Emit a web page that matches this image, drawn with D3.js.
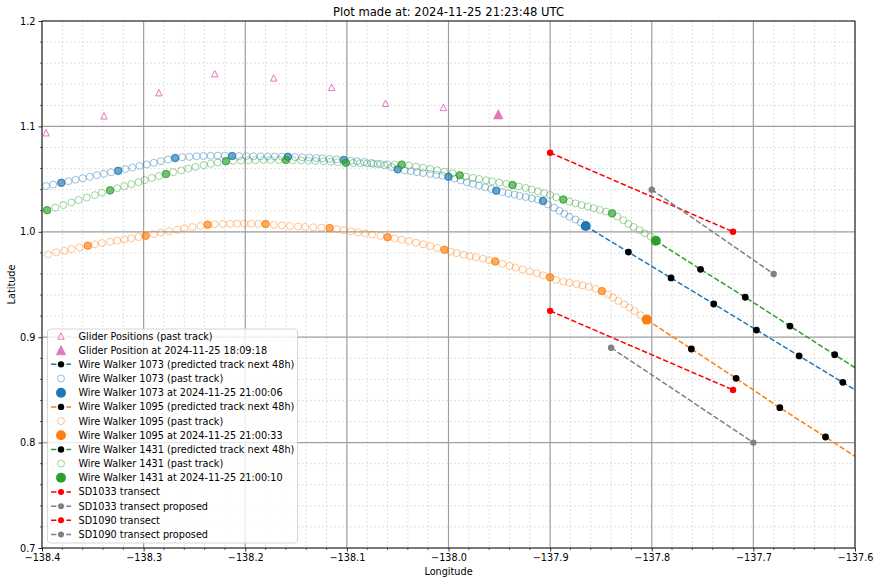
<!DOCTYPE html>
<html><head><meta charset="utf-8">
<script src="https://cdn.jsdelivr.net/npm/d3@7"></script>
<style>body{margin:0;background:#fff;} text{font-family:"DejaVu Sans",sans-serif;fill:#000;}</style>
</head><body><svg id="chart" width="880" height="585"></svg>
<script>
// ---------------- DATA ----------------
const titleText = "Plot made at: 2024-11-25 21:23:48 UTC";
const xTicks = [-138.4,-138.3,-138.2,-138.1,-138.0,-137.9,-137.8,-137.7,-137.6];
const yTicks = [0.7,0.8,0.9,1.0,1.1,1.2];

const gliderLon = [-138.396,-138.339,-138.285,-138.230,-138.172,-138.115,-138.062,-138.005];
const gliderLat = [1.094,1.110,1.132,1.150,1.146,1.137,1.122,1.118];
const gliderNow = [-137.951,1.1115];

const ww1073Lon = [-138.396,-138.389,-138.381,-138.374,-138.367,-138.360,-138.353,-138.346,-138.339,-138.332,
-138.325,-138.318,-138.311,-138.304,-138.297,-138.290,-138.283,-138.276,-138.269,-138.262,
-138.255,-138.248,-138.241,-138.234,-138.227,-138.220,-138.213,-138.206,-138.199,-138.192,
-138.185,-138.178,-138.171,-138.164,-138.158,-138.151,-138.144,-138.137,-138.130,-138.124,
-138.117,-138.110,-138.103,-138.096,-138.090,-138.083,-138.076,-138.070,-138.063,-138.056,
-138.050,-138.043,-138.037,-138.031,-138.025,-138.018,-138.012,-138.006,-138.000,-137.994,
-137.988,-137.982,-137.976,-137.970,-137.964,-137.958,-137.953,-137.947,-137.941,-137.935,
-137.930,-137.924,-137.918,-137.912,-137.907,-137.902,-137.896,-137.891,-137.886,-137.881,
-137.875,-137.870,-137.865];
const ww1073Lat = [1.0434,1.0448,1.0465,1.0480,1.0494,1.0508,1.0522,1.0537,1.0551,1.0565,
1.0579,1.0595,1.0610,1.0625,1.0640,1.0655,1.0670,1.0686,1.0700,1.0707,
1.0711,1.0716,1.0719,1.0722,1.0723,1.0722,1.0719,1.0718,1.0717,1.0716,
1.0716,1.0715,1.0714,1.0713,1.0712,1.0709,1.0706,1.0704,1.0700,1.0696,
1.0692,1.0687,1.0681,1.0675,1.0669,1.0662,1.0653,1.0644,1.0632,1.0614,
1.0593,1.0583,1.0575,1.0566,1.0558,1.0549,1.0540,1.0532,1.0522,1.0505,
1.0488,1.0471,1.0454,1.0438,1.0422,1.0406,1.0390,1.0377,1.0365,1.0353,
1.0341,1.0330,1.0317,1.0305,1.0292,1.0259,1.0228,1.0199,1.0170,1.0143,
1.0116,1.0088,1.0055];
const ww1073Marked = [2,10,18,26,34,42,50,58,66,74];

const ww1095Lon = [-138.394,-138.386,-138.378,-138.371,-138.363,-138.355,-138.348,-138.341,-138.333,-138.326,
-138.319,-138.312,-138.305,-138.298,-138.290,-138.283,-138.275,-138.267,-138.260,-138.252,
-138.244,-138.237,-138.230,-138.222,-138.215,-138.208,-138.201,-138.194,-138.187,-138.180,
-138.172,-138.164,-138.156,-138.148,-138.141,-138.133,-138.125,-138.117,-138.110,-138.103,
-138.096,-138.089,-138.082,-138.075,-138.067,-138.060,-138.053,-138.046,-138.039,-138.032,
-138.025,-138.018,-138.011,-138.004,-137.998,-137.992,-137.985,-137.979,-137.973,-137.966,
-137.960,-137.954,-137.947,-137.940,-137.934,-137.927,-137.920,-137.913,-137.907,-137.900,
-137.894,-137.887,-137.881,-137.874,-137.868,-137.862,-137.855,-137.849,-137.843,-137.838,
-137.833,-137.827,-137.822,-137.817,-137.811,-137.805];
const ww1095Lat = [0.9786,0.9805,0.9820,0.9837,0.9852,0.9868,0.9881,0.9893,0.9905,0.9916,
0.9927,0.9939,0.9950,0.9962,0.9978,0.9992,1.0006,1.0019,1.0033,1.0045,
1.0056,1.0067,1.0072,1.0074,1.0076,1.0077,1.0077,1.0076,1.0075,1.0074,
1.0066,1.0060,1.0055,1.0050,1.0046,1.0043,1.0039,1.0036,1.0025,1.0015,
1.0005,0.9995,0.9984,0.9973,0.9961,0.9949,0.9937,0.9925,0.9912,0.9897,
0.9882,0.9865,0.9847,0.9829,0.9811,0.9797,0.9782,0.9770,0.9758,0.9744,
0.9731,0.9718,0.9696,0.9677,0.9660,0.9642,0.9624,0.9606,0.9587,0.9568,
0.9544,0.9528,0.9516,0.9504,0.9492,0.9478,0.9459,0.9438,0.9406,0.9375,
0.9344,0.9312,0.9282,0.9248,0.9209,0.9167];
const ww1095Marked = [5,13,21,29,37,45,53,61,69,77];

const ww1431Lon = [-138.395,-138.387,-138.379,-138.371,-138.364,-138.356,-138.348,-138.341,-138.333,-138.326,
-138.319,-138.312,-138.305,-138.299,-138.292,-138.285,-138.278,-138.271,-138.263,-138.256,
-138.249,-138.241,-138.234,-138.227,-138.219,-138.212,-138.204,-138.197,-138.190,-138.182,
-138.175,-138.167,-138.160,-138.153,-138.145,-138.138,-138.131,-138.123,-138.116,-138.109,
-138.101,-138.094,-138.087,-138.080,-138.074,-138.067,-138.060,-138.053,-138.046,-138.039,
-138.032,-138.025,-138.018,-138.011,-138.004,-137.996,-137.989,-137.983,-137.976,-137.970,
-137.963,-137.957,-137.950,-137.943,-137.937,-137.931,-137.924,-137.918,-137.912,-137.906,
-137.900,-137.894,-137.887,-137.881,-137.875,-137.869,-137.863,-137.857,-137.851,-137.845,
-137.839,-137.834,-137.828,-137.823,-137.818,-137.812,-137.807,-137.801,-137.796];
const ww1431Lat = [1.0205,1.0229,1.0254,1.0278,1.0301,1.0325,1.0348,1.0371,1.0393,1.0413,
1.0433,1.0452,1.0471,1.0491,1.0510,1.0529,1.0548,1.0566,1.0583,1.0600,
1.0616,1.0632,1.0645,1.0658,1.0670,1.0673,1.0676,1.0678,1.0680,1.0681,
1.0682,1.0682,1.0681,1.0679,1.0677,1.0675,1.0672,1.0669,1.0665,1.0660,
1.0655,1.0653,1.0650,1.0648,1.0645,1.0643,1.0641,1.0638,1.0637,1.0628,
1.0618,1.0608,1.0596,1.0584,1.0571,1.0555,1.0536,1.0523,1.0512,1.0501,
1.0489,1.0478,1.0467,1.0455,1.0444,1.0430,1.0416,1.0400,1.0384,1.0367,
1.0349,1.0328,1.0306,1.0287,1.0270,1.0254,1.0239,1.0224,1.0208,1.0192,
1.0175,1.0145,1.0109,1.0075,1.0046,1.0017,0.9986,0.9955,0.9915];
const ww1431Marked = [0,8,16,24,32,40,48,56,64,72,80];

const pred1073Lon = [-137.865,-137.823,-137.781,-137.739,-137.697,-137.655,-137.612,-137.570];
const pred1073Lat = [1.0055,0.9808,0.9562,0.9315,0.9068,0.8822,0.8572,0.8324];
const pred1095Lon = [-137.805,-137.761,-137.717,-137.674,-137.629,-137.585];
const pred1095Lat = [0.9167,0.8888,0.8610,0.8331,0.8053,0.7775];
const pred1431Lon = [-137.796,-137.752,-137.708,-137.664,-137.620,-137.576];
const pred1431Lat = [0.9915,0.9644,0.9379,0.9106,0.8834,0.8563];

const sd1033Lon = [-137.90,-137.72], sd1033Lat = [1.075,1.000];
const sd1033PropLon = [-137.80,-137.68], sd1033PropLat = [1.040,0.960];
const sd1090Lon = [-137.90,-137.72], sd1090Lat = [0.925,0.850];
const sd1090PropLon = [-137.84,-137.70], sd1090PropLat = [0.890,0.800];

const legendLabels = [
 "Glider Positions (past track)",
 "Glider Position at 2024-11-25 18:09:18",
 "Wire Walker 1073 (predicted track next 48h)",
 "Wire Walker 1073 (past track)",
 "Wire Walker 1073 at 2024-11-25 21:00:06",
 "Wire Walker 1095 (predicted track next 48h)",
 "Wire Walker 1095 (past track)",
 "Wire Walker 1095 at 2024-11-25 21:00:33",
 "Wire Walker 1431 (predicted track next 48h)",
 "Wire Walker 1431 (past track)",
 "Wire Walker 1431 at 2024-11-25 21:00:10",
 "SD1033 transect",
 "SD1033 transect proposed",
 "SD1090 transect",
 "SD1090 transect proposed"
];

// ---------------- STYLE / LAYOUT ----------------
const C = {blue:"#1f77b4", orange:"#ff7f0e", green:"#2ca02c", pink:"#e377c2", red:"#ff0000", gray:"#808080"};
const L = 42, R = 855, T = 21, B = 548;
const svg = d3.select("#chart");
const x = d3.scaleLinear().domain([xTicks[0], xTicks[xTicks.length-1]]).range([L,R]);
const y = d3.scaleLinear().domain([yTicks[0], yTicks[yTicks.length-1]]).range([B,T]);
const zip = (a,b) => a.map((v,i)=>[v,b[i]]);
const fmt = d3.format(".1f");

svg.append("rect").attr("width",880).attr("height",585).attr("fill","#fff");
svg.append("defs").append("clipPath").attr("id","clip")
  .append("rect").attr("x",L).attr("y",T).attr("width",R-L).attr("height",B-T);

// minor grid
const xMinor = x.ticks(40), yMinor = y.ticks(25);
const grid = svg.append("g");
grid.selectAll(".xm").data(xMinor).join("line")
  .attr("x1",d=>x(d)).attr("x2",d=>x(d)).attr("y1",T).attr("y2",B)
  .attr("stroke","#d8d8d8").attr("stroke-width",0.8).attr("stroke-dasharray","2,2");
grid.selectAll(".ym").data(yMinor).join("line")
  .attr("y1",d=>y(d)).attr("y2",d=>y(d)).attr("x1",L).attr("x2",R)
  .attr("stroke","#d8d8d8").attr("stroke-width",0.8).attr("stroke-dasharray","2,2");
// major grid
grid.selectAll(".xM").data(xTicks).join("line")
  .attr("x1",d=>x(d)).attr("x2",d=>x(d)).attr("y1",T).attr("y2",B)
  .attr("stroke","#a0a0a0").attr("stroke-width",1.2);
grid.selectAll(".yM").data(yTicks).join("line")
  .attr("y1",d=>y(d)).attr("y2",d=>y(d)).attr("x1",L).attr("x2",R)
  .attr("stroke","#a0a0a0").attr("stroke-width",1.2);

const plot = svg.append("g").attr("clip-path","url(#clip)");
const tri = h => `M0,${-h}L${h},${h}L${-h},${h}Z`;

// glider
plot.selectAll(".gl").data(zip(gliderLon,gliderLat)).join("path")
  .attr("d",tri(3.2)).attr("transform",d=>`translate(${x(d[0])},${y(d[1])})`)
  .attr("fill","none").attr("stroke",C.pink).attr("stroke-width",1);
plot.append("path").attr("d",tri(4.6))
  .attr("transform",`translate(${x(gliderNow[0])},${y(gliderNow[1])})`)
  .attr("fill",C.pink).attr("stroke",C.pink).attr("stroke-width",0.8);

const dashed = "5.4,2.3";
function wire(lon,lat,marked,pLon,pLat,col){
  const pts = zip(lon,lat), pred = zip(pLon,pLat);
  plot.append("path").datum(pred)
    .attr("d",d3.line().x(d=>x(d[0])).y(d=>y(d[1])))
    .attr("fill","none").attr("stroke",col).attr("stroke-width",1.5).attr("stroke-dasharray",dashed);
  plot.selectAll(null).data(pred.slice(1)).join("circle")
    .attr("cx",d=>x(d[0])).attr("cy",d=>y(d[1])).attr("r",3.4).attr("fill","#000");
  plot.selectAll(null).data(pts).join("circle")
    .attr("cx",d=>x(d[0])).attr("cy",d=>y(d[1])).attr("r",3.5)
    .attr("fill","none").attr("stroke",col).attr("stroke-opacity",0.45).attr("stroke-width",1);
  plot.selectAll(null).data(marked.map(i=>pts[i])).join("circle")
    .attr("cx",d=>x(d[0])).attr("cy",d=>y(d[1])).attr("r",3.8)
    .attr("fill",col).attr("fill-opacity",0.65).attr("stroke",col).attr("stroke-opacity",0.65).attr("stroke-width",1);
  const now = pts[pts.length-1];
  plot.append("circle").attr("cx",x(now[0])).attr("cy",y(now[1])).attr("r",5).attr("fill",col);
}
wire(ww1073Lon,ww1073Lat,ww1073Marked,pred1073Lon,pred1073Lat,C.blue);
wire(ww1095Lon,ww1095Lat,ww1095Marked,pred1095Lon,pred1095Lat,C.orange);
wire(ww1431Lon,ww1431Lat,ww1431Marked,pred1431Lon,pred1431Lat,C.green);

function transect(lon,lat,col){
  const p = zip(lon,lat);
  plot.append("path").datum(p).attr("d",d3.line().x(d=>x(d[0])).y(d=>y(d[1])))
    .attr("fill","none").attr("stroke",col).attr("stroke-width",1.5).attr("stroke-dasharray",dashed);
  plot.selectAll(null).data(p).join("circle")
    .attr("cx",d=>x(d[0])).attr("cy",d=>y(d[1])).attr("r",3.2).attr("fill",col);
}
transect(sd1033Lon,sd1033Lat,C.red);
transect(sd1033PropLon,sd1033PropLat,C.gray);
transect(sd1090Lon,sd1090Lat,C.red);
transect(sd1090PropLon,sd1090PropLat,C.gray);

// axes
const xAxis = svg.append("g").attr("transform",`translate(0,${B})`)
  .call(d3.axisBottom(x).tickValues(xTicks).tickFormat(fmt).tickSize(3.5).tickPadding(3));
const yAxis = svg.append("g").attr("transform",`translate(${L},0)`)
  .call(d3.axisLeft(y).tickValues(yTicks).tickFormat(fmt).tickSize(3.5).tickPadding(3));
[xAxis,yAxis].forEach(a=>{
  a.select(".domain").remove();
  a.selectAll("text").attr("font-size","9.7px").attr("font-family","DejaVu Sans").attr("fill","#000");
  a.selectAll("line").attr("stroke","#000").attr("stroke-width",0.8);
});
svg.append("g").selectAll("line").data(xMinor.filter(v=>!xTicks.some(t=>Math.abs(t-v)<1e-9))).join("line")
  .attr("x1",d=>x(d)).attr("x2",d=>x(d)).attr("y1",B).attr("y2",B+2).attr("stroke","#000").attr("stroke-width",0.6);
svg.append("g").selectAll("line").data(yMinor.filter(v=>!yTicks.some(t=>Math.abs(t-v)<1e-9))).join("line")
  .attr("y1",d=>y(d)).attr("y2",d=>y(d)).attr("x1",L).attr("x2",L-2).attr("stroke","#000").attr("stroke-width",0.6);
svg.append("rect").attr("x",L).attr("y",T).attr("width",R-L).attr("height",B-T)
  .attr("fill","none").attr("stroke","#000").attr("stroke-width",0.8);

svg.append("text").attr("x",(L+R)/2).attr("y",16).attr("text-anchor","middle")
  .attr("font-size","11.6px").text(titleText);
svg.append("text").attr("x",(L+R)/2).attr("y",575).attr("text-anchor","middle")
  .attr("font-size","9.7px").text("Longitude");
svg.append("text").attr("transform",`translate(15,${(T+B)/2}) rotate(-90)`).attr("text-anchor","middle")
  .attr("font-size","9.7px").text("Latitude");

// legend
const lg = svg.append("g");
lg.append("rect").attr("x",47.5).attr("y",329).attr("width",250).attr("height",214).attr("rx",3)
  .attr("fill","#fff").attr("fill-opacity",0.8).attr("stroke","#cccccc").attr("stroke-width",0.8);
const handles = [
 {k:"tri",c:C.pink},{k:"trif",c:C.pink},
 {k:"pred",c:C.blue},{k:"open",c:C.blue},{k:"now",c:C.blue},
 {k:"pred",c:C.orange},{k:"open",c:C.orange},{k:"now",c:C.orange},
 {k:"pred",c:C.green},{k:"open",c:C.green},{k:"now",c:C.green},
 {k:"tr",c:C.red},{k:"tr",c:C.gray},{k:"tr",c:C.red},{k:"tr",c:C.gray}
];
legendLabels.forEach((lab,i)=>{
  const cy = 336 + i*14.18;
  const g = lg.append("g");
  const h = handles[i];
  if(h.k==="tri") g.append("path").attr("d",tri(3.2)).attr("transform",`translate(61,${cy})`).attr("fill","none").attr("stroke",h.c);
  if(h.k==="trif") g.append("path").attr("d",tri(4.6)).attr("transform",`translate(61,${cy})`).attr("fill",h.c).attr("stroke",h.c).attr("stroke-width",0.8);
  if(h.k==="pred"||h.k==="tr"){
    g.append("line").attr("x1",51).attr("x2",71).attr("y1",cy).attr("y2",cy).attr("stroke",h.c).attr("stroke-width",1.5).attr("stroke-dasharray","5.4,2.3");
    g.append("circle").attr("cx",61).attr("cy",cy).attr("r",h.k==="pred"?3.2:3).attr("fill",h.k==="pred"?"#000":h.c);
  }
  if(h.k==="open") g.append("circle").attr("cx",61).attr("cy",cy).attr("r",3.5).attr("fill","none").attr("stroke",h.c).attr("stroke-opacity",0.45);
  if(h.k==="now") g.append("circle").attr("cx",61).attr("cy",cy).attr("r",5).attr("fill",h.c);
  g.append("text").attr("x",78.5).attr("y",cy+3.5).attr("font-size","9.7px").text(lab);
});
</script></body></html>
